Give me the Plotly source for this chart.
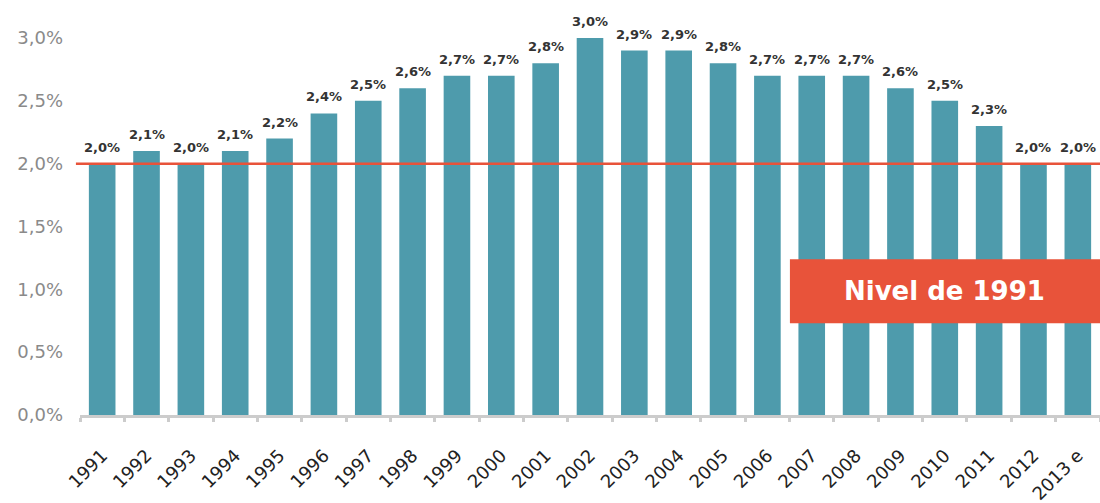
import plotly.graph_objects as go

years = ["1991", "1992", "1993", "1994", "1995", "1996", "1997", "1998", "1999", "2000",
         "2001", "2002", "2003", "2004", "2005", "2006", "2007", "2008", "2009", "2010",
         "2011", "2012", "2013 e"]
values = [2.0, 2.1, 2.0, 2.1, 2.2, 2.4, 2.5, 2.6, 2.7, 2.7,
          2.8, 3.0, 2.9, 2.9, 2.8, 2.7, 2.7, 2.7, 2.6, 2.5,
          2.3, 2.0, 2.0]
y_ticks = [0.0, 0.5, 1.0, 1.5, 2.0, 2.5, 3.0]
reference_level = 2.0
reference_label = "Nivel de 1991"

def pct(v):
    return f"{v:.1f}%".replace(".", ",")

BAR = "#4e9bac"
RED = "#e8533a"
FONT = "DejaVu Sans, Liberation Sans, sans-serif"

fig = go.Figure()
fig.add_trace(go.Bar(
    x=years, y=values,
    marker=dict(color=BAR, line=dict(width=0)),
    width=0.6,
    hoverinfo="skip",
))

# value labels above each bar (category axis positions by index)
for i, v in enumerate(values):
    fig.add_annotation(x=i, y=v, xref="x", yref="y", text=f"<b>{pct(v)}</b>",
                       showarrow=False, yanchor="bottom", yshift=7,
                       font=dict(family=FONT, size=13, color="#333333"))

# horizontal reference line at the 1991 level
fig.add_shape(type="line", xref="paper", yref="y",
              x0=-0.004, x1=1.0, y0=reference_level, y1=reference_level,
              line=dict(color=RED, width=2.5), layer="above")

# label box
fig.add_shape(type="rect", xref="paper", yref="y",
              x0=0.696, x1=1.0, y0=0.73, y1=1.24,
              fillcolor=RED, line=dict(width=0), layer="above")
fig.add_annotation(xref="paper", yref="y", x=(0.696 + 1.0) / 2, y=0.985,
                   xanchor="center", yanchor="middle",
                   text=f"<b>{reference_label}</b>", showarrow=False,
                   font=dict(family=FONT, size=26, color="white"))

fig.update_layout(
    width=1100, height=503,
    margin=dict(l=80, r=0, t=38, b=88),
    plot_bgcolor="white", paper_bgcolor="white",
    showlegend=False,
    font=dict(family=FONT),
    xaxis=dict(
        type="category",
        range=[-0.5, len(years) - 0.5],
        tickangle=-45,
        tickfont=dict(family=FONT, size=18, color="#222222"),
        showline=True, linecolor="#cccccc", linewidth=3,
        ticks="outside", tickson="boundaries", ticklen=4, tickwidth=3, tickcolor="#cccccc",
        ticklabelstandoff=20,
        showgrid=False,
    ),
    yaxis=dict(
        range=[0, 3.0],
        tickvals=y_ticks,
        ticktext=[pct(v) for v in y_ticks],
        tickfont=dict(family=FONT, size=18, color="#8a8a8a"),
        showgrid=False, zeroline=False, showline=False,
        ticks="", ticklabelstandoff=16,
    ),
)

fig.write_html("out.html")
